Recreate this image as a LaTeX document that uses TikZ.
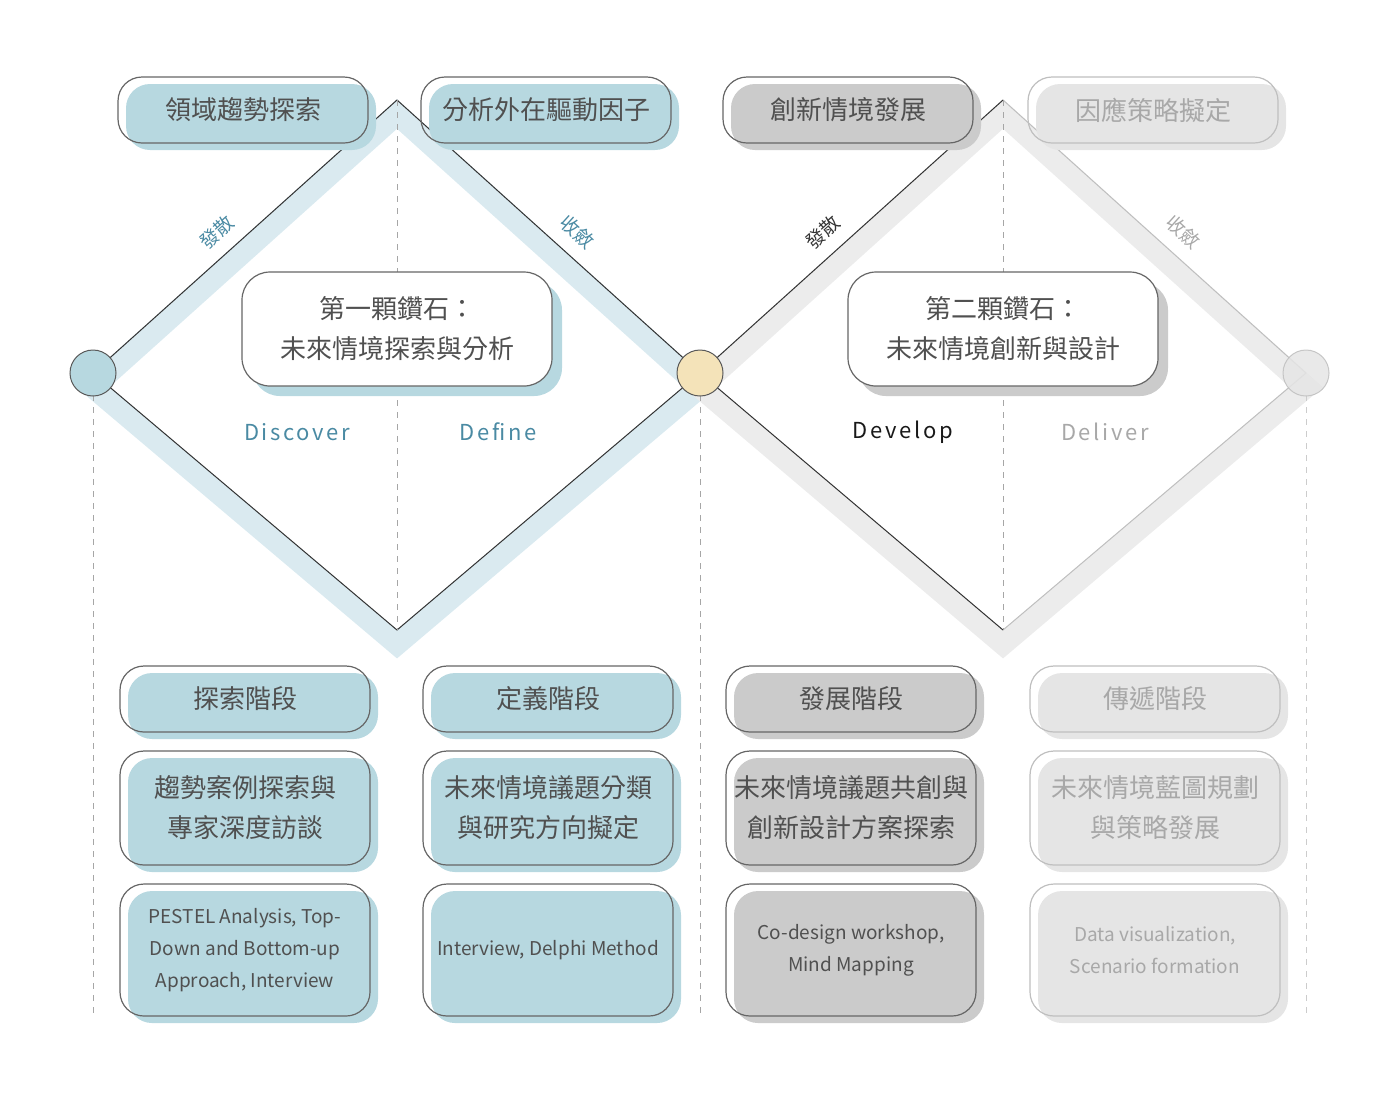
\documentclass[tikz,border=0pt]{standalone}
\usepackage{fontspec}
\setmainfont{Noto Sans CJK TC}
\usetikzlibrary{positioning,calc}
\definecolor{tealfill}{HTML}{B7D8E0}
\definecolor{tealband}{HTML}{DAEAF0}
\definecolor{tealtext}{HTML}{4A8AA3}
\definecolor{darkfill}{HTML}{CBCBCB}
\definecolor{lightfill}{HTML}{E5E5E5}
\definecolor{grayband}{HTML}{ECECEC}
\definecolor{inktext}{HTML}{505050}
\definecolor{paletext}{HTML}{A8A8A8}
\definecolor{sunfill}{HTML}{F4E3B9}
\begin{document}
\begin{tikzpicture}[
  x=0.5pt,y=-0.5pt,
  card/.style={draw=gray!80!black,line width=0.6pt,rounded corners=12pt,minimum width=125pt,align=center,text=inktext,
    preaction={fill=#1,draw=none,transform canvas={xshift=4pt,yshift=-3.5pt}}},
  hub/.style={draw=gray!80!black,fill=white,line width=0.6pt,rounded corners=14pt,minimum width=155pt,minimum height=57pt,align=center,text=inktext,font=\fontsize{13pt}{20pt}\selectfont,
    preaction={fill=#1,draw=none,transform canvas={xshift=5pt,yshift=-5pt}}},
  band/.style={line width=11pt,#1,line join=miter},
  edge/.style={gray!40!black,line width=0.5pt},
  guide/.style={dashed,gray!70,line width=0.5pt},
  knot/.style={circle,draw=gray!70!black,line width=0.5pt,minimum size=23pt,inner sep=0pt},
  phase/.style={font=\fontsize{11pt}{13pt}\selectfont\addfontfeatures{LetterSpace=12}},
  slant/.style={font=\fontsize{9.5pt}{11pt}\selectfont,inner sep=1pt}
]
  \useasboundingbox (0,0) rectangle (1400,1100);
  % diamonds
  \coordinate (l1) at (93,373); \coordinate (t1) at (397,100); \coordinate (m) at (700,373);
  \coordinate (b1) at (397,630); \coordinate (t2) at (1003,100); \coordinate (b2) at (1003,630);
  \coordinate (r2) at (1306,373);
  \draw[band=tealband] ($(l1)+(0,14)$)--($(t1)+(0,14)$)--($(m)+(0,14)$)--($(b1)+(0,14)$)--cycle;
  \draw[band=grayband] ($(m)+(0,14)$)--($(t2)+(0,14)$)--($(r2)+(0,14)$)--($(b2)+(0,14)$)--cycle;
  \draw[edge] (l1)--(t1)--(m)--(b1)--cycle;
  \draw[edge,gray!50] (t2)--(r2)--(b2);
  \draw[edge] (b2)--(m)--(t2);
  % guides
  \draw[guide] (t1)--(b1);
  \draw[guide] (t2)--(b2);
  \draw[guide] (93,395)--(93,1015);
  \draw[guide] (700,395)--(700,1015);
  \draw[guide,gray!40] (1306,395)--(1306,1015);
  \node[knot,fill=tealfill] (k1) at (l1) {};
  \node[knot,fill=sunfill] (k2) at (m) {};
  \node[knot,fill=lightfill,draw=gray!50,opacity=0.85] (k3) at (r2) {};
  % edge labels
  \node[slant,text=tealtext,rotate=42] (dv1) at (217,232) {發散};
  \node[slant,text=tealtext,rotate=-42] (cv1) at (577,232) {收斂};
  \node[slant,text=gray!40!black,rotate=42] (dv2) at (823,232) {發散};
  \node[slant,text=paletext,rotate=-42] (cv2) at (1183,232) {收斂};
  % phase names
  \node[phase,text=tealtext] (disc) at (297,432) {Discover};
  \node[phase,text=tealtext] (defn) at (498,432) {Define};
  \node[phase,text=gray!20!black] (devl) at (903,432) {Develop};
  \node[phase,text=paletext] (delv) at (1105,432) {Deliver};
  % hubs
  \node[hub=tealfill] (d1) at (397,329) {第一顆鑽石：\\未來情境探索與分析};
  \node[hub=darkfill] (d2) at (1003,329) {第二顆鑽石：\\未來情境創新與設計};
  % top cards
  \begin{scope}[every node/.append style={minimum height=33pt,font=\fontsize{13pt}{15pt}\selectfont}]
    \node[card=tealfill] (top1) at (243,110) {領域趨勢探索};
    \node[card=tealfill] (top2) at (546,110) {分析外在驅動因子};
    \node[card=darkfill] (top3) at (848,110) {創新情境發展};
    \node[card=lightfill,text=paletext,draw=gray!50] (top4) at (1153,110) {因應策略擬定};
  \end{scope}
  % stage cards
  \begin{scope}[every node/.append style={minimum height=33pt,font=\fontsize{13pt}{15pt}\selectfont}]
    \node[card=tealfill] (st1) at (245,699) {探索階段};
    \node[card=tealfill] (st2) at (548,699) {定義階段};
    \node[card=darkfill] (st3) at (851,699) {發展階段};
    \node[card=lightfill,text=paletext,draw=gray!50] (st4) at (1155,699) {傳遞階段};
  \end{scope}
  \begin{scope}[every node/.append style={minimum height=57pt,font=\fontsize{13pt}{20pt}\selectfont}]
    \node[card=tealfill] (gl1) at (245,808) {趨勢案例探索與\\專家深度訪談};
    \node[card=tealfill] (gl2) at (548,808) {未來情境議題分類\\與研究方向擬定};
    \node[card=darkfill] (gl3) at (851,808) {未來情境議題共創與\\創新設計方案探索};
    \node[card=lightfill,text=paletext,draw=gray!50] (gl4) at (1155,808) {未來情境藍圖規劃\\與策略發展};
  \end{scope}
  \begin{scope}[every node/.append style={minimum height=66pt,font=\fontsize{9.5pt}{16pt}\selectfont}]
    \node[card=tealfill] (tl1) at (245,950) {PESTEL Analysis, Top-\\Down and Bottom-up\\Approach, Interview};
    \node[card=tealfill] (tl2) at (548,950) {Interview, Delphi Method};
    \node[card=darkfill] (tl3) at (851,950) {Co-design workshop,\\Mind Mapping};
    \node[card=lightfill,text=paletext,draw=gray!50] (tl4) at (1155,950) {Data visualization,\\Scenario formation};
  \end{scope}
\end{tikzpicture}
\end{document}
